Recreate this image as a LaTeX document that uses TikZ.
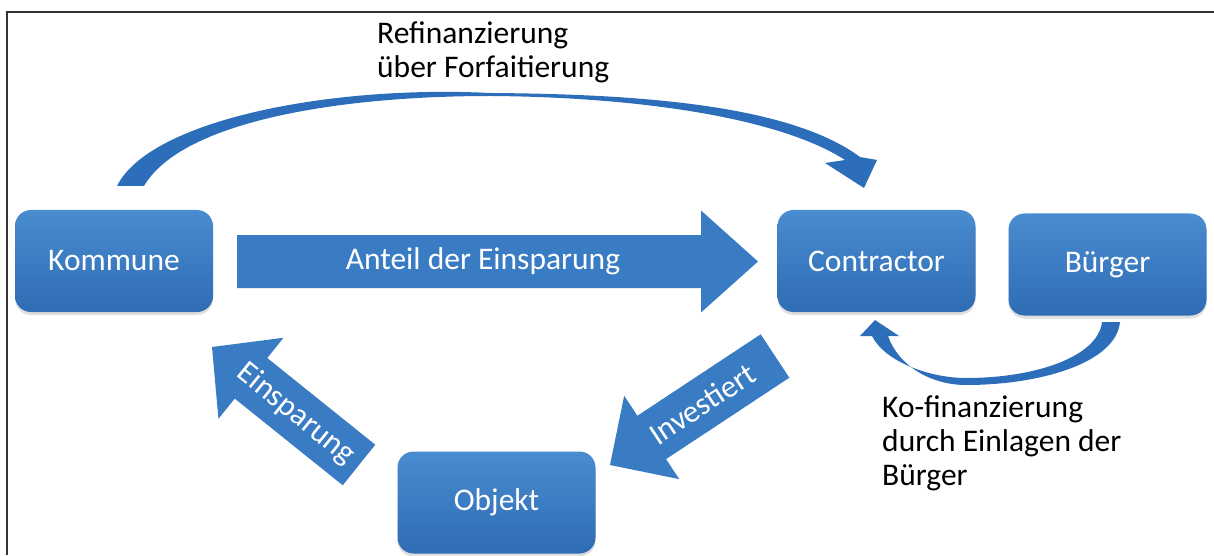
\documentclass[tikz,border=0pt]{standalone}
\usepackage{fontspec}
\setmainfont{Carlito}
\usetikzlibrary{calc,shadows}
\definecolor{boxtop}{RGB}{74,140,208}
\definecolor{boxbot}{RGB}{46,108,180}
\definecolor{arrowblue}{RGB}{58,124,196}
\definecolor{arcblue}{RGB}{44,110,186}
\begin{document}
\begin{tikzpicture}[
    x=1pt, y=1pt,
    every node/.style={font=\fontsize{31.5}{34}\selectfont},
    party/.style={rectangle, rounded corners=16pt, minimum width=198pt,
      minimum height=102pt, top color=boxtop, bottom color=boxbot,
      text=white, drop shadow={opacity=0.25, shadow xshift=0pt, shadow yshift=-3pt}},
    blockarrow/.style={fill=arrowblue},
    arctext/.style={text=white, inner sep=0pt},
    arcarrow/.style={fill=arcblue},
    note/.style={align=left, anchor=west, inner sep=0pt},
    frameline/.style={draw=black!80, line width=1.5pt},
]
\useasboundingbox (0,0) rectangle (1214,555);
\draw[frameline] (7,0) -- (7,543) -- (1214,543);

% curved arrows (behind the boxes)
\fill[arcarrow] (117,369) .. controls (150,435) and (330,470) .. (490,462)
  .. controls (640,461) and (790,450) .. (860,398) -- (877,395) -- (864,367)
  -- (825,392) -- (845,395) .. controls (780,437) and (640,458) .. (490,459)
  .. controls (340,459) and (182,434) .. (144,369) -- cycle;
\fill[arcarrow] (1120,233) .. controls (1116,192) and (1040,170) .. (966,170)
  .. controls (930,170) and (898,190) .. (888,219) -- (899,219) -- (875,235)
  -- (860,219) -- (872,219) .. controls (885,193) and (930,177) .. (966,177)
  .. controls (1035,177) and (1098,198) .. (1102,233) -- cycle;

% boxes
\node[party] (kommune)    at (114,294)    {Kommune};
\node[party] (contractor) at (876.5,294)  {Contractor};
\node[party] (buerger)    at (1107.5,290.5) {Bürger};
\node[party] (objekt)     at (496.5,52.5) {Objekt};

% block arrows: tail / tip
\coordinate (anteilA) at (237,293.5);
\coordinate (anteilB) at (758,293.5);
\coordinate (invA) at (775,199);
\coordinate (invB) at (610,90);
\coordinate (einA) at (359,90);
\coordinate (einB) at (212,208);
\foreach \from/\to/\shaft/\head/\hlen in
    {anteilA/anteilB/26.5/51/57, invA/invB/26/50/50, einA/einB/26/52/50} {
  \path ($(\to)!\hlen pt!(\from)$) coordinate (hb);
  \fill[blockarrow] ($(\from)!\shaft pt!90:(\to)$) -- ($(hb)!\shaft pt!90:(\to)$)
    -- ($(hb)!\head pt!90:(\to)$) -- (\to) -- ($(hb)!\head pt!-90:(\to)$)
    -- ($(hb)!\shaft pt!-90:(\to)$) -- ($(\from)!\shaft pt!-90:(\to)$) -- cycle;
}
\node[arctext] (anteil) at (483,293.5) {Anteil der Einsparung};
\node[arctext, rotate=33.4] (invest) at ($(invA)!0.44!(invB)$) {Investiert};
\node[arctext, rotate=-39] (einsp) at ($(einA)!0.43!(einB)$) {Einsparung};

% labels
\node[note] (refi) at (377,503) {Refinanzierung\\über Forfaitierung};
\node[note] (kofi) at (882,112) {Ko-finanzierung\\durch Einlagen der\\Bürger};
\end{tikzpicture}
\end{document}
